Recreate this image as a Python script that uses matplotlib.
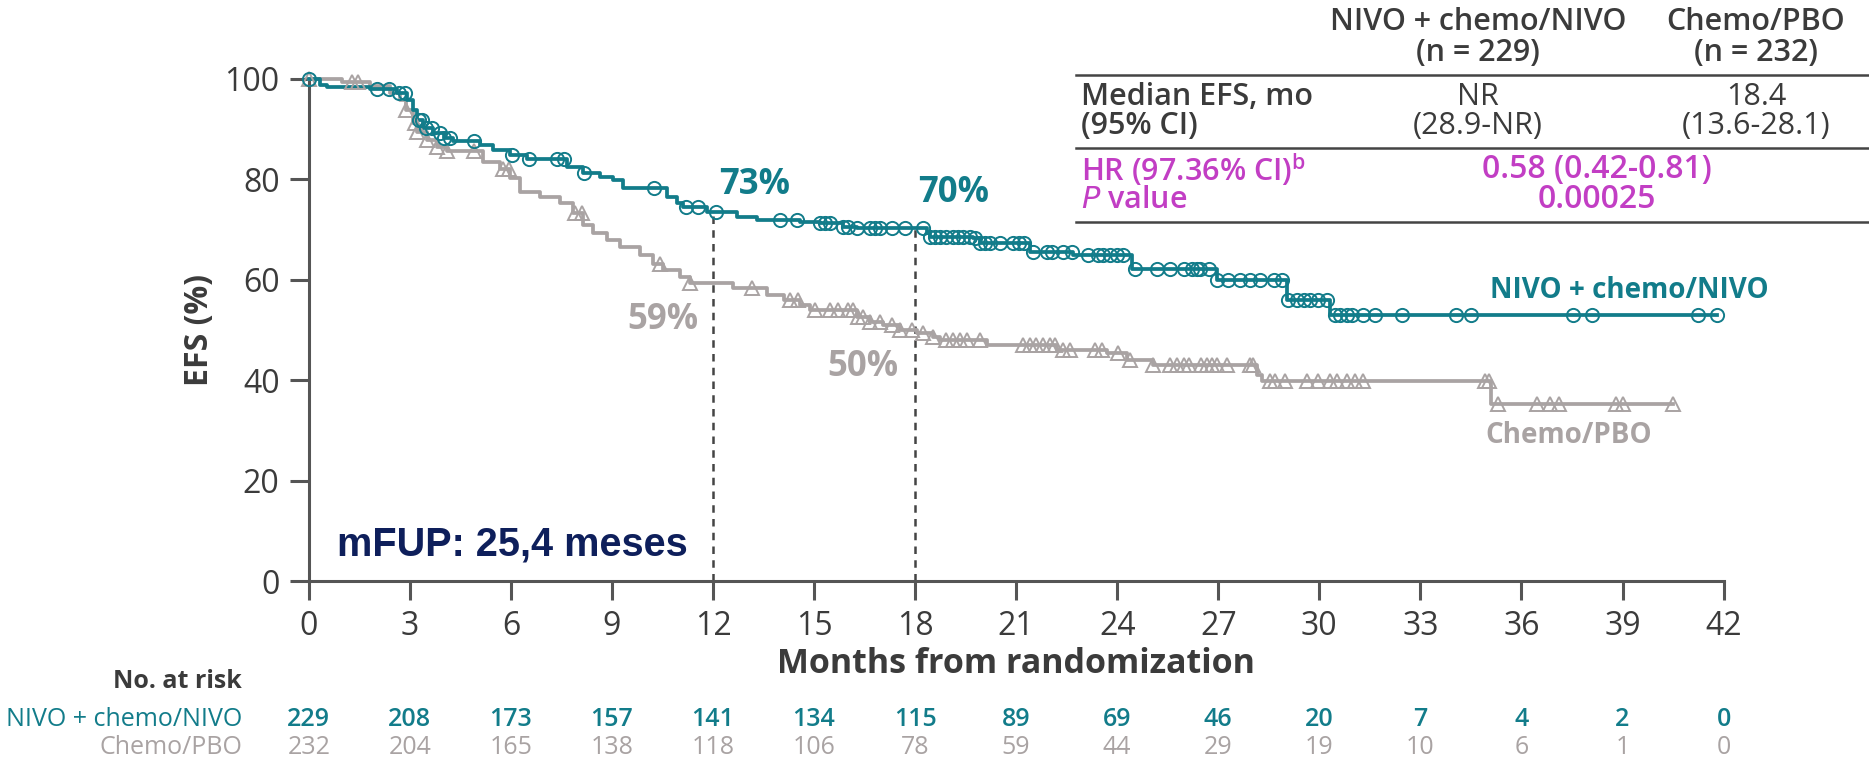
import numpy as np
import matplotlib
matplotlib.use("Agg")
import matplotlib.pyplot as plt

plt.rcParams['font.family'] = ['Open Sans', 'DejaVu Sans']

# ---------------- data ----------------
nivo_t = [0, 0.34, 0.54, 1.82, 2.61, 2.91, 3.1, 3.2, 3.4, 3.7, 4.0, 4.29, 5.08, 5.48, 5.97,
          6.47, 7.66, 8.15, 8.65, 9.04, 9.34, 10.63, 10.92, 11.12, 11.81, 12.7, 13.3, 14.58,
          15.18, 15.87, 16.27, 18.34, 18.44, 19.73, 19.93, 21.41, 22.7, 24.45, 26.95, 29.03, 30.32]
nivo_s = [100, 98.8, 98.4, 98.0, 97.1, 95.7, 93.7, 91.8, 90.1, 89.1, 88.1, 87.6, 86.8, 85.8, 84.8,
          84.1, 82.5, 81.2, 80.5, 79.8, 78.2, 76.5, 75.2, 74.5, 73.5, 72.5, 71.9, 71.5,
          71.2, 70.5, 70.2, 69.2, 68.5, 68.2, 67.2, 65.5, 64.8, 62.2, 59.9, 55.9, 52.9]
nivo_end = 41.8
nivo_cens = [0, 2.04, 2.37, 2.67, 2.86, 3.26, 3.36, 3.47, 3.66, 3.9, 4.0, 4.2, 4.9, 6.04, 6.54,
             7.38, 7.58, 8.18, 10.26, 11.2, 11.55, 12.1, 13.99, 14.48, 15.18, 15.33, 15.47, 15.87,
             16.02, 16.27, 16.66, 16.81, 16.96, 17.3, 17.7, 18.24, 18.44, 18.59, 18.74, 18.93,
             19.13, 19.28, 19.43, 19.63, 19.78, 19.93, 20.08, 20.23, 20.52, 20.92, 21.07, 21.22,
             21.51, 21.91, 22.06, 22.4, 22.65, 23.14, 23.44, 23.59, 23.78, 23.98, 24.18, 24.53,
             25.18, 25.57, 25.97, 26.22, 26.36, 26.46, 26.71, 26.95, 27.3, 27.65, 27.94, 28.24,
             28.64, 28.88, 29.08, 29.33, 29.53, 29.73, 29.97, 30.22, 30.47, 30.62, 30.82, 30.96,
             31.31, 31.66, 32.45, 34.05, 34.5, 37.54, 38.08, 41.25, 41.8]

chemo_t = [0, 1.0, 1.82, 2.41, 2.71, 2.9, 3.1, 3.2, 3.5, 3.8, 4.09, 5.18, 5.68, 5.98, 6.27,
           6.87, 7.46, 7.85, 8.15, 8.45, 8.85, 9.24, 9.83, 10.23, 10.53, 11.02, 11.32, 12.6,
           13.6, 14.1, 14.58, 14.88, 16.27, 16.66, 17.06, 17.55, 18.05, 18.54, 18.74, 20.13,
           22.2, 23.7, 24.28, 25.07, 28.14, 28.3, 35.1]
chemo_s = [100, 99.4, 98.5, 97.1, 95.7, 93.7, 91.1, 89.4, 87.8, 86.4, 85.5, 83.5, 82.1, 80.2, 77.5,
           76.5, 75.2, 73.2, 70.9, 69.2, 67.9, 66.5, 64.9, 63.2, 61.9, 60.6, 59.3, 58.3,
           56.9, 55.9, 54.9, 53.9, 52.6, 51.6, 51.0, 50.0, 49.3, 48.6, 48.0, 47.0,
           46.0, 45.3, 44.0, 43.0, 41.0, 39.8, 35.2]
chemo_end = 40.5
chemo_cens = [0, 1.27, 1.47, 2.9, 3.15, 3.2, 3.5, 3.8, 4.1, 4.9, 5.78, 5.93, 7.9, 8.1, 10.43,
              11.32, 13.15, 14.29, 14.53, 15.03, 15.47, 15.72, 16.0, 16.15, 16.31, 16.46, 16.66,
              16.96, 17.3, 17.55, 17.9, 18.24, 18.54, 18.93, 19.13, 19.33, 19.53, 19.93, 21.2,
              21.4, 21.6, 21.8, 21.99, 22.14, 22.4, 22.6, 23.34, 23.54, 24.03, 24.38, 25.07,
              25.57, 25.77, 25.97, 26.12, 26.5, 26.65, 26.8, 26.95, 27.25, 27.94, 28.04, 28.54,
              28.69, 28.98, 29.62, 29.97, 30.32, 30.52, 30.82, 31.06, 31.31, 34.92, 35.03, 35.3,
              36.45, 36.85, 37.1, 38.8, 39.0, 40.5]

x_ticks = list(range(0, 43, 3))
y_ticks = [0, 20, 40, 60, 80, 100]
risk_nivo = [229, 208, 173, 157, 141, 134, 115, 89, 69, 46, 20, 7, 4, 2, 0]
risk_chemo = [232, 204, 165, 138, 118, 106, 78, 59, 44, 29, 19, 10, 6, 1, 0]

landmarks = [12, 18]
nivo_lm_labels = ["73%", "70%"]
chemo_lm_labels = ["59%", "50%"]

# ---------------- style ----------------
TEAL = "#127c8a"
GRAY = "#a9a3a3"
MAG = "#c23ec4"
NAVY = "#0e1f5b"
DARK = "#3b3b3b"

fig = plt.figure(figsize=(18.69, 7.62), dpi=100)
ax = fig.add_axes([0.1652, 0.2375, 0.9222 - 0.1652, 0.8968 - 0.2375])


def surv_at(times, surv, x):
    idx = np.searchsorted(np.asarray(times), np.asarray(x), side='right') - 1
    return np.asarray(surv)[np.clip(idx, 0, None)]


for t, s, end, cens, col, mk, ms in [(chemo_t, chemo_s, chemo_end, chemo_cens, GRAY, '^', 9.5),
                                     (nivo_t, nivo_s, nivo_end, nivo_cens, TEAL, 'o', 9.5)]:
    ax.step(list(t) + [end], list(s) + [s[-1]], where='post', color=col, lw=2.7,
            clip_on=False, zorder=3)
    ax.plot(cens, surv_at(t, s, cens), linestyle='none', marker=mk, markersize=ms,
            markerfacecolor='none', markeredgecolor=col, markeredgewidth=1.4,
            clip_on=False, zorder=4)

# landmark dashed lines
for lm in landmarks:
    ax.plot([lm, lm], [0, float(surv_at(nivo_t, nivo_s, [lm])[0])], color="#444444",
            lw=1.8, ls=(0, (3, 2.5)), zorder=2)

ax.set_xlim(0, 42)
ax.set_ylim(0, 100)
ax.set_xticks(x_ticks)
ax.set_yticks(y_ticks)
for side in ['top', 'right']:
    ax.spines[side].set_visible(False)
for side in ['left', 'bottom']:
    ax.spines[side].set_linewidth(2.2)
    ax.spines[side].set_color("#555555")
ax.tick_params(axis='both', length=14, width=2.2, color="#555555", labelsize=23,
               labelcolor=DARK, pad=7)
ax.set_ylabel("EFS (%)", fontsize=23, fontweight='bold', color=DARK, labelpad=6)
ax.set_xlabel("Months from randomization", fontsize=24.5, fontweight='bold', color=DARK,
              labelpad=3)

# landmark labels
ax.text(13.25, 78.8, nivo_lm_labels[0], color=TEAL, fontsize=25, fontweight='bold',
        ha='center', va='center')
ax.text(19.15, 77.2, nivo_lm_labels[1], color=TEAL, fontsize=25, fontweight='bold',
        ha='center', va='center')
ax.text(10.5, 51.9, chemo_lm_labels[0], color=GRAY, fontsize=25, fontweight='bold',
        ha='center', va='center')
ax.text(16.45, 42.7, chemo_lm_labels[1], color=GRAY, fontsize=25, fontweight='bold',
        ha='center', va='center')

# curve labels
ax.text(39.2, 57.9, "NIVO + chemo/NIVO", color=TEAL, fontsize=20, fontweight='bold',
        ha='center', va='center')
ax.text(37.4, 29.0, "Chemo/PBO", color=GRAY, fontsize=20, fontweight='bold',
        ha='center', va='center')

ax.text(0.85, 7.2, "mFUP: 25,4 meses", color=NAVY, fontsize=28.5, fontweight='bold',
        ha='left', va='center',
        family=['Liberation Sans Narrow', 'Liberation Sans', 'DejaVu Sans'])

# ---------------- summary table (figure pixel coords) ----------------
W, H = 1869, 762


def ft(x, y, s, **kw):
    fig.text(x / W, 1 - y / H, s, **kw)


TS = 22
hdr = dict(fontsize=TS, fontweight='semibold', color=DARK, ha='center', va='center')
ft(1478, 22, "NIVO + chemo/NIVO", **hdr)
ft(1478, 53, "(n = 229)", **hdr)
ft(1756, 22, "Chemo/PBO", **hdr)
ft(1756, 53, "(n = 232)", **hdr)
for yy in [75, 148, 222]:
    fig.add_artist(plt.Line2D([1076 / W, 1.0], [1 - yy / H, 1 - yy / H], color="#444444",
                              lw=1.8, transform=fig.transFigure))
ft(1081, 97, "Median EFS, mo", fontsize=TS, fontweight='semibold', color=DARK, ha='left', va='center')
ft(1081, 126, "(95% CI)", fontsize=TS, fontweight='semibold', color=DARK, ha='left', va='center')
ft(1478, 97, "NR", fontsize=TS, color=DARK, ha='center', va='center')
ft(1478, 126, "(28.9-NR)", fontsize=TS, color=DARK, ha='center', va='center')
ft(1756, 97, "18.4", fontsize=TS, color=DARK, ha='center', va='center')
ft(1756, 126, "(13.6-28.1)", fontsize=TS, color=DARK, ha='center', va='center')
ft(1081, 170, r"HR (97.36% CI)$^{\mathregular{b}}$", fontsize=TS, fontweight='semibold',
   color=MAG, ha='left', va='center')
ft(1081, 200, r"$\mathit{P}$ value", fontsize=TS, fontweight='semibold', color=MAG,
   ha='left', va='center')
ft(1597, 170, "0.58 (0.42-0.81)", fontsize=23, fontweight='semibold', color=MAG,
   ha='center', va='center')
ft(1597, 200, "0.00025", fontsize=23, fontweight='semibold', color=MAG, ha='center', va='center')

# ---------------- at-risk table ----------------
trans = matplotlib.transforms.blended_transform_factory(ax.transData, fig.transFigure)
ft(242, 682, "No. at risk", fontsize=18, fontweight='bold', color=DARK, ha='right', va='center')
ft(242, 720, "NIVO + chemo/NIVO", fontsize=18, color=TEAL, ha='right', va='center')
ft(242, 747, "Chemo/PBO", fontsize=18, color=GRAY, ha='right', va='center')
for xt, a, b in zip(x_ticks, risk_nivo, risk_chemo):
    ax.text(xt, 1 - 720 / H, str(a), transform=trans, fontsize=18, fontweight='semibold',
            color=TEAL, ha='center', va='center', clip_on=False)
    ax.text(xt, 1 - 747 / H, str(b), transform=trans, fontsize=18, color=GRAY,
            ha='center', va='center', clip_on=False)

fig.savefig("out.png", dpi=100, facecolor='white')
